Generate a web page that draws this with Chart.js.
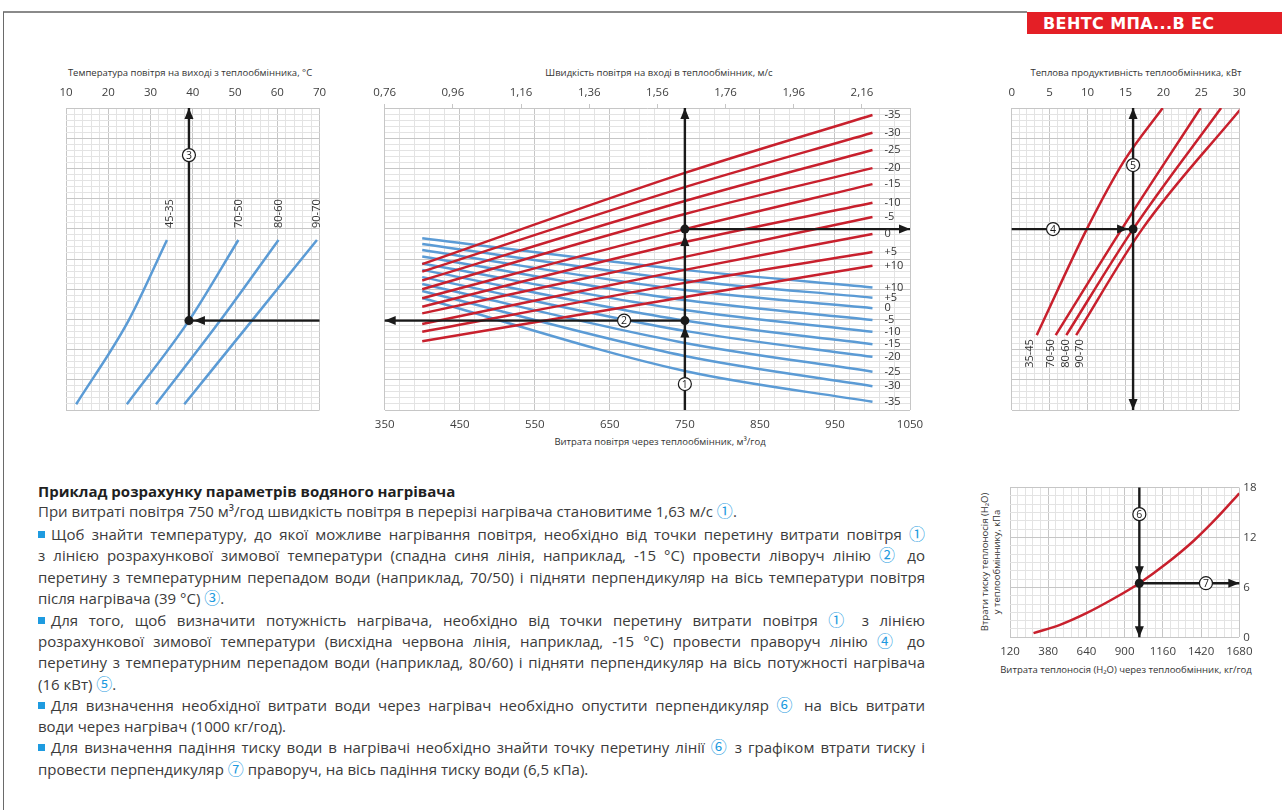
<!DOCTYPE html>
<html><head><meta charset="utf-8">
<script src="https://cdn.jsdelivr.net/npm/chart.js@4.4.1/dist/chart.umd.min.js"></script>
<style>
body{margin:0;width:1282px;height:810px;background:#fff;position:relative;overflow:hidden;font-family:'Open Sans',sans-serif;}
canvas{position:absolute;}
.t{position:absolute;color:#333;font-size:9.5px;text-align:center;white-space:nowrap;line-height:12px;}
.ln{position:absolute;left:38px;width:887px;font-size:15px;line-height:20px;height:20px;color:#3b3b3b;white-space:nowrap;}
.j{text-align:justify;text-align-last:justify;white-space:normal;overflow:hidden;}
.b{display:inline-block;width:7px;height:7px;background:#1e9be0;margin-right:6px;vertical-align:2px;}
.c{color:#1e9be0;font-size:16px;font-family:'Noto Sans CJK SC','DejaVu Sans',sans-serif;line-height:14px;}
#hdr{position:absolute;left:1027px;top:12px;width:255px;height:22px;background:#e41f26;color:#fff;font-weight:700;font-family:'DejaVu Sans',sans-serif;font-size:16px;letter-spacing:0.4px;line-height:23px;padding-left:16px;box-sizing:border-box;white-space:nowrap;}
</style></head>
<body>
<div style="position:absolute;left:3px;top:11px;width:1024px;height:2px;background:#8a8a8a"></div>
<div style="position:absolute;left:3px;top:12px;width:1px;height:798px;background:#6a6a6a"></div>
<div id="hdr">ВЕНТС МПА...В ЕС</div>

<div class="t" style="left:-10px;width:400px;top:67px">Температура повітря на виході з теплообмінника, °C</div>
<div class="t" style="left:459px;width:400px;top:67px">Швидкість повітря на вході в теплообмінник, м/с</div>
<div class="t" style="left:936px;width:400px;top:67px">Теплова продуктивність теплообмінника, кВт</div>
<div class="t" style="left:460px;width:400px;top:436px">Витрата повітря через теплообмінник, м³/год</div>
<div class="t" style="left:926px;width:400px;top:664px">Витрата теплоносія (H₂O) через теплообмінник, кг/год</div>
<div class="t" style="left:906px;width:170px;top:550px;transform:rotate(-90deg);white-space:normal">Втрати тиску теплоносія (H₂O)<br>у теплообміннику, кПа</div>

<canvas id="cL" width="310" height="360" style="left:30px;top:60px"></canvas>
<canvas id="cM" width="590" height="400" style="left:350px;top:60px"></canvas>
<canvas id="cR" width="280" height="360" style="left:990px;top:60px"></canvas>
<canvas id="cB" width="322" height="220" style="left:960px;top:470px"></canvas>

<div class="ln" style="top:481px;font-weight:700;color:#1f1f1f">Приклад розрахунку параметрів водяного нагрівача</div>
<div class="ln" style="top:501px">При витраті повітря 750 м³/год швидкість повітря в перерізі нагрівача становитиме 1,63 м/с <span class="c">①</span>.</div>
<div class="ln j" style="top:524px"><span class="b"></span>Щоб знайти температуру, до якої можливе нагрівання повітря, необхідно від точки перетину витрати повітря <span class="c">①</span></div>
<div class="ln j" style="top:545px">з лінією розрахункової зимової температури (спадна синя лінія, наприклад, -15 °C) провести ліворуч лінію <span class="c">②</span> до</div>
<div class="ln j" style="top:567px">перетину з температурним перепадом води (наприклад, 70/50) і підняти перпендикуляр на вісь температури повітря</div>
<div class="ln" style="top:588px">після нагрівача (39 °C) <span class="c">③</span>.</div>
<div class="ln j" style="top:610px"><span class="b"></span>Для того, щоб визначити потужність нагрівача, необхідно від точки перетину витрати повітря <span class="c">①</span> з лінією</div>
<div class="ln j" style="top:631px">розрахункової зимової температури (висхідна червона лінія, наприклад, -15 °C) провести праворуч лінію <span class="c">④</span> до</div>
<div class="ln j" style="top:652px">перетину з температурним перепадом води (наприклад, 80/60) і підняти перпендикуляр на вісь потужності нагрівача</div>
<div class="ln" style="top:674px">(16 кВт) <span class="c">⑤</span>.</div>
<div class="ln j" style="top:695px"><span class="b"></span>Для визначення необхідної витрати води через нагрівач необхідно опустити перпендикуляр <span class="c">⑥</span> на вісь витрати</div>
<div class="ln" style="top:716px">води через нагрівач (1000 кг/год).</div>
<div class="ln j" style="top:737px"><span class="b"></span>Для визначення падіння тиску води в нагрівачі необхідно знайти точку перетину лінії <span class="c">⑥</span> з графіком втрати тиску і</div>
<div class="ln" style="top:759px">провести перпендикуляр <span class="c">⑦</span> праворуч, на вісь падіння тиску води (6,5 кПа).</div>

<script>
// shrink a justified line slightly if it would wrap
document.querySelectorAll('.j').forEach(el => {
  let fs = 15;
  while (el.scrollHeight > el.clientHeight + 1 && fs > 12) { fs -= 0.2; el.style.fontSize = fs + 'px'; }
});

// ---------- DATA ----------
// shared (unlabelled) vertical scale of the three upper nomograms: 0..100
// Left chart: outlet air temperature (°C) at three levels of the shared scale
const leftLevels = [1.9, 29.6, 56.3];
const leftT_45_35 = [12.4, 24.8, 33.9];
const leftT_70_50 = [24.4, 39.1, 50.8];
const leftT_80_60 = [31.3, 46.5, 60.3];
const leftT_90_70 = [38.0, 54.0, 69.4];
const leftNames = ['45-35', '70-50', '80-60', '90-70'];

// Middle chart: air flow (m3/h)
const flowPts = [400, 750, 1000];
const heatLabels = ['-35', '-30', '-25', '-20', '-15', '-10', '-5', '0', '+5', '+10'];
const heatY = [
  [48.3, 78.5, 97.7], [45.8, 73.8, 91.8], [42.9, 69.2, 86.1], [40.0, 64.9, 80.1], [37.0, 59.9, 74.8],
  [34.2, 55.6, 68.6], [32.0, 50.7, 63.9], [28.5, 46.4, 58.3], [25.9, 42.1, 52.3], [22.8, 37.4, 47.8]
];
const coolLabels = ['+10', '+5', '0', '-5', '-10', '-15', '-20', '-25', '-30', '-35'];
const coolY = [
  [56.9, 46.4, 40.6], [55.0, 43.0, 37.2], [53.0, 39.7, 33.7], [50.8, 36.4, 29.8], [48.5, 33.1, 25.9],
  [46.4, 29.6, 21.8], [44.0, 26.2, 17.6], [41.7, 22.2, 12.7], [39.4, 17.9, 7.9], [37.1, 12.9, 2.7]
];
const velTicks = [0.76, 0.96, 1.16, 1.36, 1.56, 1.76, 1.96, 2.16];

// Right chart: heating capacity (kW)
const powLevels35 = [24.8, 59.9, 82.8, 100];
const pow_35_45 = [3.3, 9.9, 14.9, 19.9];
const powLevels = [24.8, 59.9, 100];
const pow_70_50 = [5.8, 14.5, 24.9];
const pow_80_60 = [7.2, 16.0, 27.6];
const pow_90_70 = [8.5, 17.2, 30.3];

// Bottom chart: water flow (kg/h) vs pressure drop (kPa)
const waterFlow = [280, 460, 640, 820, 1000, 1180, 1370, 1530, 1680];
const pressureDrop = [0.5, 1.5, 2.9, 4.6, 6.5, 8.8, 11.6, 14.4, 17.3];

// Worked example
const exAirFlow = 750, exCoolLevel = 29.6, exHeatLevel = 59.9;
const exOutletT = 39.1, exPower = 16, exWater = 1000, exDrop = 6.5;

// ---------- STYLE / HELPERS ----------
const MAJOR = '#c6c6c6', MINOR = '#e3e3e3', RED = '#c8202d', BLUE = '#5b9bd5', INK = '#1a1a1a';
const TICKFONT = {family: "'Open Sans', sans-serif", size: 11.5};
const LABFONT = "11px 'Open Sans', sans-serif";

function gridColor(min, major) {
  return ctx => { const v = ctx.tick ? ctx.tick.value : min; const k = (v - min) / major;
    return Math.abs(k - Math.round(k)) < 1e-6 ? MAJOR : MINOR; };
}
function xAxis(min, max, step, major, pos, fit, pad) {
  return {type: 'linear', position: pos, min, max,
    ticks: {stepSize: step, autoSkip: false, maxRotation: 0, minRotation: 0, color: '#404040', font: TICKFONT, padding: pad,
      callback: v => { const k = (v - min) / major; return Math.abs(k - Math.round(k)) < 1e-6 ? String(v) : ''; }},
    grid: {color: gridColor(min, major), lineWidth: 1, drawTicks: false},
    border: {display: false},
    afterFit(s) { s.height = fit; }};
}
function yAxis(min, max, step, major, pos, fit, labels) {
  return {type: 'linear', position: pos || 'left', min, max,
    ticks: {stepSize: step, display: !!labels, autoSkip: false, color: '#404040', font: TICKFONT, padding: 4,
      callback: v => { const k = (v - min) / major; return Math.abs(k - Math.round(k)) < 1e-6 ? String(v) : ''; }},
    grid: {color: gridColor(min, major), lineWidth: 1, drawTicks: false},
    border: {display: false},
    afterFit(s) { s.width = fit || 0; }};
}
const pairs = (xs, ys) => xs.map((x, i) => ({x, y: ys[i]}));
function curve(xs, ys, color, extra) {
  return Object.assign({data: pairs(xs, ys), showLine: true, borderColor: color, borderWidth: 2.5, pointRadius: 0,
    cubicInterpolationMode: 'monotone', fill: false, order: 3}, extra || {});
}
function guide(pts, arrow) {
  const d = {data: pts, showLine: true, borderColor: INK, borderWidth: 2.4, pointRadius: 0, order: 2, clip: false};
  if (arrow !== undefined) d.arrow = arrow;
  return d;
}
function dot(x, y) {
  return {data: [{x, y}], showLine: false, pointRadius: 4.5, pointBackgroundColor: INK, pointBorderWidth: 0, order: 1, clip: false};
}

const marks = {
  id: 'marks',
  afterDatasetsDraw(chart, args, opts) {
    const ctx = chart.ctx;
    chart.data.datasets.forEach((ds, i) => {
      const pts = chart.getDatasetMeta(i).data;
      if (!pts.length) return;
      if (ds.arrow !== undefined && pts.length > 1) {
        const a = pts[pts.length - 1], b = pts[pts.length - 2];
        const dx = a.x - b.x, dy = a.y - b.y, L = Math.hypot(dx, dy), ux = dx / L, uy = dy / L;
        const tx = a.x - ux * ds.arrow, ty = a.y - uy * ds.arrow, len = 11, w = 4.5;
        ctx.save(); ctx.fillStyle = INK; ctx.beginPath(); ctx.moveTo(tx, ty);
        ctx.lineTo(tx - ux * len - uy * w, ty - uy * len + ux * w);
        ctx.lineTo(tx - ux * len + uy * w, ty - uy * len - ux * w);
        ctx.closePath(); ctx.fill(); ctx.restore();
      }
      if (ds.endLabel) {
        const p = pts[pts.length - 1];
        ctx.save(); ctx.font = LABFONT; ctx.fillStyle = '#333'; ctx.textAlign = 'left'; ctx.textBaseline = 'middle';
        ctx.fillText(ds.endLabel, p.x + 12, p.y); ctx.restore();
      }
      if (ds.upLabel) {
        const p = pts[pts.length - 1];
        ctx.save(); ctx.font = LABFONT; ctx.fillStyle = '#333'; ctx.translate(p.x + (ds.labelDx || 0), p.y - 12);
        ctx.rotate(-Math.PI / 2); ctx.textAlign = 'left'; ctx.textBaseline = 'middle'; ctx.fillText(ds.upLabel, 0, 0); ctx.restore();
      }
      if (ds.downLabel) {
        const p = pts[0];
        ctx.save(); ctx.font = LABFONT; ctx.fillStyle = '#333'; ctx.translate(p.x + (ds.labelDx || 0), p.y + 4);
        ctx.rotate(-Math.PI / 2); ctx.textAlign = 'right'; ctx.textBaseline = 'middle'; ctx.fillText(ds.downLabel, 0, 0); ctx.restore();
      }
    });
    (opts.circles || []).forEach(c => {
      const x = chart.scales.x.getPixelForValue(c.x), y = chart.scales.y.getPixelForValue(c.y);
      ctx.save(); ctx.beginPath(); ctx.arc(x, y, 6.5, 0, Math.PI * 2); ctx.fillStyle = '#fff'; ctx.fill();
      ctx.lineWidth = 1.2; ctx.strokeStyle = INK; ctx.stroke();
      ctx.fillStyle = INK; ctx.font = "10.5px 'Open Sans', sans-serif"; ctx.textAlign = 'center'; ctx.textBaseline = 'middle';
      ctx.fillText(c.n, x, y + 0.5); ctx.restore();
    });
  }
};
Chart.register(marks);

function baseOpts(scales, padding, circles) {
  return {responsive: false, animation: false, devicePixelRatio: 1, layout: {padding},
    plugins: {legend: {display: false}, tooltip: {enabled: false}, marks: {circles}}, scales};
}

// ---------- LEFT CHART ----------
new Chart(document.getElementById('cL'), {
  type: 'scatter',
  data: {datasets: [
    dot(exOutletT, exCoolLevel),
    guide([{x: exOutletT, y: exCoolLevel}, {x: exOutletT, y: 100}], 0),
    guide([{x: 70, y: exCoolLevel}, {x: exOutletT, y: exCoolLevel}], 5),
    curve(leftT_45_35, leftLevels, BLUE, {upLabel: leftNames[0], labelDx: 3}),
    curve(leftT_70_50, leftLevels, BLUE, {upLabel: leftNames[1]}),
    curve(leftT_80_60, leftLevels, BLUE, {upLabel: leftNames[2]}),
    curve(leftT_90_70, leftLevels, BLUE, {upLabel: leftNames[3]})
  ]},
  options: baseOpts({x: xAxis(10, 70, 2, 10, 'top', 20, 8), y: yAxis(0, 100, 2, 10)},
    {left: 36, right: 20.5, top: 28, bottom: 10}, [{x: exOutletT, y: 84.4, n: '3'}])
});

// ---------- MIDDLE CHART ----------
const midSets = [
  dot(exAirFlow, exCoolLevel), dot(exAirFlow, exHeatLevel),
  guide([{x: exAirFlow, y: 0}, {x: exAirFlow, y: exCoolLevel}], 6),
  guide([{x: exAirFlow, y: exCoolLevel}, {x: exAirFlow, y: exHeatLevel}], 6),
  guide([{x: exAirFlow, y: exHeatLevel}, {x: exAirFlow, y: 100}], 0),
  guide([{x: exAirFlow, y: exCoolLevel}, {x: 350, y: exCoolLevel}], 0),
  guide([{x: exAirFlow, y: exHeatLevel}, {x: 1050, y: exHeatLevel}], 0)
];
heatY.forEach((ys, i) => midSets.push(curve(flowPts, ys, RED, {endLabel: heatLabels[i]})));
coolY.forEach((ys, i) => midSets.push(curve(flowPts, ys, BLUE, {endLabel: coolLabels[i], order: 4})));
const midX = xAxis(350, 1050, 20, 100, 'bottom', 20, 8);
const midTop = {type: 'linear', position: 'top', min: 0.76, max: 2.301,
  afterBuildTicks(s) { s.ticks = velTicks.map(v => ({value: v})); },
  ticks: {autoSkip: false, maxRotation: 0, color: '#404040', font: TICKFONT, padding: 4,
    callback: v => v.toFixed(2).replace('.', ',')},
  grid: {drawOnChartArea: false, drawTicks: true, tickLength: 4, color: '#c6c6c6'},
  border: {display: false},
  afterFit(s) { s.height = 20; }};
new Chart(document.getElementById('cM'), {
  type: 'scatter',
  data: {datasets: midSets},
  options: baseOpts({x: midX, xTop: midTop, y: yAxis(0, 100, 2, 10)},
    {left: 34.7, right: 30, top: 28, bottom: 30}, [{x: exAirFlow, y: 8.6, n: '1'}, {x: 669, y: exCoolLevel, n: '2'}])
});

// ---------- RIGHT CHART ----------
new Chart(document.getElementById('cR'), {
  type: 'scatter',
  data: {datasets: [
    dot(exPower, exHeatLevel),
    guide([{x: 0, y: exHeatLevel}, {x: exPower, y: exHeatLevel}], 5),
    guide([{x: exPower, y: exHeatLevel}, {x: exPower, y: 100}], 0),
    guide([{x: exPower, y: exHeatLevel}, {x: exPower, y: 0}], 0),
    curve(pow_35_45, powLevels35, RED, {downLabel: '35-45', labelDx: -7}),
    curve(pow_70_50, powLevels, RED, {downLabel: '70-50', labelDx: -5}),
    curve(pow_80_60, powLevels, RED, {downLabel: '80-60', labelDx: 0}),
    curve(pow_90_70, powLevels, RED, {downLabel: '90-70', labelDx: 4})
  ]},
  options: baseOpts({x: xAxis(0, 30, 1, 5, 'top', 20, 8), y: yAxis(0, 100, 2, 10)},
    {left: 21.7, right: 30.7, top: 28, bottom: 10}, [{x: 5.45, y: exHeatLevel, n: '4'}, {x: exPower, y: 81.1, n: '5'}])
});

// ---------- BOTTOM CHART ----------
new Chart(document.getElementById('cB'), {
  type: 'scatter',
  data: {datasets: [
    dot(exWater, exDrop),
    guide([{x: exWater, y: 18}, {x: exWater, y: exDrop}], 6),
    guide([{x: exWater, y: exDrop}, {x: exWater, y: 0}], 0),
    guide([{x: exWater, y: exDrop}, {x: 1680, y: exDrop}], 0),
    curve(waterFlow, pressureDrop, RED)
  ]},
  options: baseOpts({x: xAxis(120, 1680, 52, 260, 'bottom', 20, 8), y: yAxis(0, 18, 1, 6, 'right', 20, true)},
    {left: 50, right: 22.7, top: 17.5, bottom: 32.7}, [{x: exWater, y: 14.8, n: '6'}, {x: 1453, y: exDrop, n: '7'}])
});
</script>
</body></html>
